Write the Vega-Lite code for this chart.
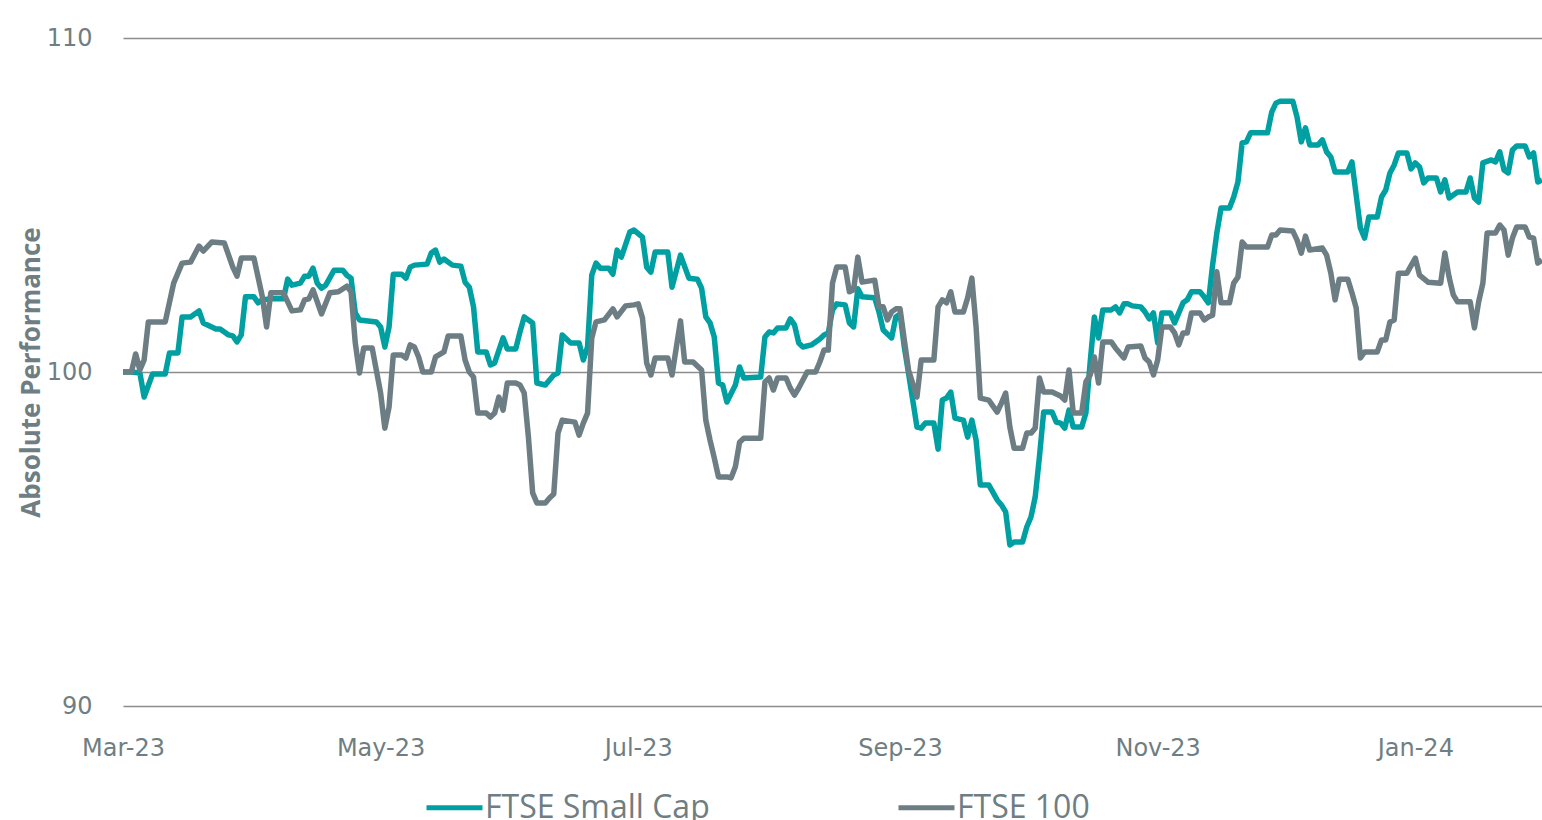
{
  "$schema": "https://vega.github.io/schema/vega-lite/v6.json",
  "width": 1419,
  "height": 668,
  "autosize": {"type": "none"},
  "padding": {"left": 123, "top": 38, "right": 0, "bottom": 114},
  "background": "white",
  "config": {"view": {"stroke": null}},
  "datasets": {
    "small": [
      {"d":"2023/03/01","v":100.00},{"d":"2023/03/03","v":100.00},{"d":"2023/03/05","v":99.97},{"d":"2023/03/06","v":99.25},{"d":"2023/03/08","v":99.94},{"d":"2023/03/11","v":99.94},{"d":"2023/03/12","v":100.57},{"d":"2023/03/14","v":100.57},{"d":"2023/03/15","v":101.65},{"d":"2023/03/17","v":101.65},{"d":"2023/03/19","v":101.83},{"d":"2023/03/20","v":101.47},{"d":"2023/03/21","v":101.41},{"d":"2023/03/23","v":101.29},{"d":"2023/03/24","v":101.29},{"d":"2023/03/26","v":101.11},{"d":"2023/03/27","v":101.08},{"d":"2023/03/28","v":100.90},{"d":"2023/03/29","v":101.11},{"d":"2023/03/30","v":102.25},
      {"d":"2023/04/01","v":102.25},{"d":"2023/04/02","v":102.07},{"d":"2023/04/03","v":102.16},{"d":"2023/04/05","v":102.19},{"d":"2023/04/08","v":102.19},{"d":"2023/04/09","v":102.78},{"d":"2023/04/10","v":102.60},{"d":"2023/04/12","v":102.66},{"d":"2023/04/13","v":102.87},{"d":"2023/04/14","v":102.87},{"d":"2023/04/15","v":103.11},{"d":"2023/04/16","v":102.66},{"d":"2023/04/17","v":102.51},{"d":"2023/04/18","v":102.60},{"d":"2023/04/20","v":103.05},{"d":"2023/04/22","v":103.05},{"d":"2023/04/23","v":102.90},{"d":"2023/04/24","v":102.81},{"d":"2023/04/25","v":101.77},{"d":"2023/04/26","v":101.56},{"d":"2023/04/30","v":101.50},
      {"d":"2023/05/01","v":101.35},{"d":"2023/05/02","v":100.75},{"d":"2023/05/03","v":101.35},{"d":"2023/05/04","v":102.93},{"d":"2023/05/06","v":102.93},{"d":"2023/05/07","v":102.81},{"d":"2023/05/08","v":103.14},{"d":"2023/05/09","v":103.20},{"d":"2023/05/12","v":103.23},{"d":"2023/05/13","v":103.56},{"d":"2023/05/14","v":103.65},{"d":"2023/05/15","v":103.29},{"d":"2023/05/16","v":103.38},{"d":"2023/05/18","v":103.20},{"d":"2023/05/20","v":103.17},{"d":"2023/05/21","v":102.69},{"d":"2023/05/22","v":102.54},{"d":"2023/05/23","v":101.95},{"d":"2023/05/24","v":100.60},{"d":"2023/05/26","v":100.60},{"d":"2023/05/27","v":100.21},{"d":"2023/05/28","v":100.27},{"d":"2023/05/30","v":101.02},{"d":"2023/05/31","v":100.69},
      {"d":"2023/06/02","v":100.69},{"d":"2023/06/03","v":101.20},{"d":"2023/06/04","v":101.65},{"d":"2023/06/06","v":101.47},{"d":"2023/06/07","v":99.67},{"d":"2023/06/09","v":99.61},{"d":"2023/06/11","v":99.91},{"d":"2023/06/12","v":99.97},{"d":"2023/06/13","v":101.11},{"d":"2023/06/15","v":100.87},{"d":"2023/06/17","v":100.87},{"d":"2023/06/18","v":100.36},{"d":"2023/06/19","v":100.75},{"d":"2023/06/20","v":102.90},{"d":"2023/06/21","v":103.26},{"d":"2023/06/22","v":103.11},{"d":"2023/06/24","v":103.11},{"d":"2023/06/25","v":102.93},{"d":"2023/06/26","v":103.65},{"d":"2023/06/27","v":103.44},{"d":"2023/06/29","v":104.19},{"d":"2023/06/30","v":104.25},
      {"d":"2023/07/02","v":104.04},{"d":"2023/07/03","v":103.14},{"d":"2023/07/04","v":102.99},{"d":"2023/07/05","v":103.59},{"d":"2023/07/08","v":103.59},{"d":"2023/07/09","v":102.54},{"d":"2023/07/11","v":103.50},{"d":"2023/07/13","v":102.81},{"d":"2023/07/15","v":102.78},{"d":"2023/07/16","v":102.51},{"d":"2023/07/17","v":101.65},{"d":"2023/07/18","v":101.47},{"d":"2023/07/19","v":101.05},{"d":"2023/07/20","v":99.67},{"d":"2023/07/21","v":99.61},{"d":"2023/07/22","v":99.10},{"d":"2023/07/24","v":99.61},{"d":"2023/07/25","v":100.15},{"d":"2023/07/26","v":99.82},{"d":"2023/07/30","v":99.85},{"d":"2023/07/31","v":101.05},
      {"d":"2023/08/01","v":101.20},{"d":"2023/08/02","v":101.17},{"d":"2023/08/03","v":101.32},{"d":"2023/08/05","v":101.32},{"d":"2023/08/06","v":101.59},{"d":"2023/08/07","v":101.41},{"d":"2023/08/08","v":100.87},{"d":"2023/08/09","v":100.75},{"d":"2023/08/11","v":100.81},{"d":"2023/08/13","v":100.99},{"d":"2023/08/14","v":101.11},{"d":"2023/08/15","v":101.17},{"d":"2023/08/16","v":101.86},{"d":"2023/08/17","v":102.04},{"d":"2023/08/19","v":102.01},{"d":"2023/08/20","v":101.47},{"d":"2023/08/21","v":101.35},{"d":"2023/08/22","v":102.49},{"d":"2023/08/23","v":102.25},{"d":"2023/08/26","v":102.22},{"d":"2023/08/27","v":101.80},{"d":"2023/08/28","v":101.26},{"d":"2023/08/30","v":101.02},{"d":"2023/08/31","v":101.65},
      {"d":"2023/09/01","v":101.74},{"d":"2023/09/02","v":100.75},{"d":"2023/09/03","v":99.97},{"d":"2023/09/05","v":98.35},{"d":"2023/09/06","v":98.32},{"d":"2023/09/07","v":98.47},{"d":"2023/09/09","v":98.47},{"d":"2023/09/10","v":97.69},{"d":"2023/09/11","v":99.16},{"d":"2023/09/12","v":99.22},{"d":"2023/09/13","v":99.40},{"d":"2023/09/14","v":98.62},{"d":"2023/09/16","v":98.56},{"d":"2023/09/17","v":98.05},{"d":"2023/09/18","v":98.56},{"d":"2023/09/19","v":97.96},{"d":"2023/09/20","v":96.62},{"d":"2023/09/22","v":96.62},{"d":"2023/09/24","v":96.17},{"d":"2023/09/25","v":96.02},{"d":"2023/09/26","v":95.81},{"d":"2023/09/27","v":94.82},{"d":"2023/09/28","v":94.91},{"d":"2023/09/30","v":94.91},
      {"d":"2023/10/01","v":95.36},{"d":"2023/10/02","v":95.66},{"d":"2023/10/03","v":96.26},{"d":"2023/10/04","v":97.46},{"d":"2023/10/05","v":98.80},{"d":"2023/10/07","v":98.80},{"d":"2023/10/08","v":98.50},{"d":"2023/10/09","v":98.47},{"d":"2023/10/10","v":98.32},{"d":"2023/10/11","v":98.86},{"d":"2023/10/12","v":98.35},{"d":"2023/10/14","v":98.35},{"d":"2023/10/15","v":98.77},{"d":"2023/10/16","v":100.27},{"d":"2023/10/17","v":101.65},{"d":"2023/10/18","v":101.02},{"d":"2023/10/19","v":101.86},{"d":"2023/10/21","v":101.86},{"d":"2023/10/22","v":101.95},{"d":"2023/10/23","v":101.77},{"d":"2023/10/24","v":102.04},{"d":"2023/10/25","v":102.04},{"d":"2023/10/26","v":101.98},{"d":"2023/10/28","v":101.95},{"d":"2023/10/29","v":101.80},{"d":"2023/10/30","v":101.59},{"d":"2023/10/31","v":101.77},
      {"d":"2023/11/01","v":100.87},{"d":"2023/11/02","v":101.77},{"d":"2023/11/04","v":101.77},{"d":"2023/11/05","v":101.47},{"d":"2023/11/06","v":101.77},{"d":"2023/11/07","v":102.07},{"d":"2023/11/08","v":102.16},{"d":"2023/11/09","v":102.40},{"d":"2023/11/11","v":102.40},{"d":"2023/11/12","v":102.25},{"d":"2023/11/13","v":102.07},{"d":"2023/11/14","v":103.20},{"d":"2023/11/15","v":104.16},{"d":"2023/11/16","v":104.91},{"d":"2023/11/18","v":104.91},{"d":"2023/11/19","v":105.24},{"d":"2023/11/20","v":105.69},{"d":"2023/11/21","v":106.86},{"d":"2023/11/22","v":106.89},{"d":"2023/11/23","v":107.16},{"d":"2023/11/27","v":107.16},{"d":"2023/11/28","v":107.78},{"d":"2023/11/29","v":108.05},{"d":"2023/11/30","v":108.11},
      {"d":"2023/12/03","v":108.11},{"d":"2023/12/04","v":107.63},{"d":"2023/12/05","v":106.89},{"d":"2023/12/06","v":107.31},{"d":"2023/12/07","v":106.80},{"d":"2023/12/09","v":106.80},{"d":"2023/12/10","v":106.95},{"d":"2023/12/11","v":106.59},{"d":"2023/12/12","v":106.44},{"d":"2023/12/13","v":105.99},{"d":"2023/12/16","v":105.99},{"d":"2023/12/17","v":106.29},{"d":"2023/12/18","v":105.30},{"d":"2023/12/19","v":104.31},{"d":"2023/12/20","v":104.01},{"d":"2023/12/21","v":104.64},{"d":"2023/12/23","v":104.64},{"d":"2023/12/24","v":105.24},{"d":"2023/12/25","v":105.45},{"d":"2023/12/26","v":105.96},{"d":"2023/12/27","v":106.20},{"d":"2023/12/28","v":106.56},{"d":"2023/12/30","v":106.56},{"d":"2023/12/31","v":106.08},
      {"d":"2024/01/01","v":106.26},{"d":"2024/01/02","v":106.14},{"d":"2024/01/03","v":105.66},{"d":"2024/01/04","v":105.81},{"d":"2024/01/06","v":105.81},{"d":"2024/01/07","v":105.39},{"d":"2024/01/08","v":105.75},{"d":"2024/01/09","v":105.21},{"d":"2024/01/10","v":105.30},{"d":"2024/01/11","v":105.39},{"d":"2024/01/13","v":105.39},{"d":"2024/01/14","v":105.81},{"d":"2024/01/15","v":105.21},{"d":"2024/01/16","v":105.09},{"d":"2024/01/17","v":106.26},{"d":"2024/01/19","v":106.35},{"d":"2024/01/20","v":106.29},{"d":"2024/01/21","v":106.59},{"d":"2024/01/22","v":106.05},{"d":"2024/01/23","v":105.96},{"d":"2024/01/24","v":106.65},{"d":"2024/01/25","v":106.77},{"d":"2024/01/27","v":106.77},{"d":"2024/01/28","v":106.44},{"d":"2024/01/29","v":106.56},{"d":"2024/01/30","v":105.69},{"d":"2024/01/31","v":105.75}
    ],
    "ftse": [
      {"d":"2023/03/01","v":100.00},{"d":"2023/03/03","v":100.00},{"d":"2023/03/04","v":100.54},{"d":"2023/03/05","v":100.06},{"d":"2023/03/06","v":100.36},{"d":"2023/03/07","v":101.50},{"d":"2023/03/11","v":101.50},{"d":"2023/03/13","v":102.66},{"d":"2023/03/15","v":103.26},{"d":"2023/03/17","v":103.29},{"d":"2023/03/19","v":103.77},{"d":"2023/03/20","v":103.62},{"d":"2023/03/22","v":103.89},{"d":"2023/03/25","v":103.86},{"d":"2023/03/27","v":103.14},{"d":"2023/03/28","v":102.87},{"d":"2023/03/29","v":103.41},
      {"d":"2023/04/01","v":103.41},{"d":"2023/04/03","v":102.25},{"d":"2023/04/04","v":101.35},{"d":"2023/04/05","v":102.37},{"d":"2023/04/08","v":102.37},{"d":"2023/04/10","v":101.83},{"d":"2023/04/12","v":101.86},{"d":"2023/04/13","v":102.16},{"d":"2023/04/14","v":102.19},{"d":"2023/04/15","v":102.46},{"d":"2023/04/17","v":101.74},{"d":"2023/04/19","v":102.37},{"d":"2023/04/21","v":102.40},{"d":"2023/04/23","v":102.57},{"d":"2023/04/24","v":102.40},{"d":"2023/04/25","v":100.87},{"d":"2023/04/26","v":99.97},{"d":"2023/04/27","v":100.72},{"d":"2023/04/29","v":100.72},
      {"d":"2023/05/01","v":99.37},{"d":"2023/05/02","v":98.32},{"d":"2023/05/03","v":98.95},{"d":"2023/05/04","v":100.51},{"d":"2023/05/06","v":100.51},{"d":"2023/05/07","v":100.42},{"d":"2023/05/08","v":100.81},{"d":"2023/05/09","v":100.75},{"d":"2023/05/10","v":100.45},{"d":"2023/05/11","v":100.00},{"d":"2023/05/13","v":100.00},{"d":"2023/05/14","v":100.45},{"d":"2023/05/16","v":100.60},{"d":"2023/05/17","v":101.08},{"d":"2023/05/20","v":101.08},{"d":"2023/05/21","v":100.36},{"d":"2023/05/22","v":100.00},{"d":"2023/05/23","v":99.85},{"d":"2023/05/24","v":98.77},{"d":"2023/05/26","v":98.77},{"d":"2023/05/27","v":98.65},{"d":"2023/05/28","v":98.77},{"d":"2023/05/29","v":99.25},{"d":"2023/05/30","v":98.86},{"d":"2023/05/31","v":99.67},
      {"d":"2023/06/02","v":99.67},{"d":"2023/06/03","v":99.61},{"d":"2023/06/04","v":99.37},{"d":"2023/06/05","v":98.05},{"d":"2023/06/06","v":96.38},{"d":"2023/06/07","v":96.08},{"d":"2023/06/09","v":96.08},{"d":"2023/06/10","v":96.23},{"d":"2023/06/11","v":96.35},{"d":"2023/06/12","v":98.17},{"d":"2023/06/13","v":98.56},{"d":"2023/06/16","v":98.50},{"d":"2023/06/17","v":98.11},{"d":"2023/06/18","v":98.47},{"d":"2023/06/19","v":98.77},{"d":"2023/06/20","v":101.02},{"d":"2023/06/21","v":101.50},{"d":"2023/06/23","v":101.56},{"d":"2023/06/25","v":101.89},{"d":"2023/06/26","v":101.65},{"d":"2023/06/28","v":101.98},{"d":"2023/06/30","v":102.01},
      {"d":"2023/07/01","v":102.04},{"d":"2023/07/02","v":101.62},{"d":"2023/07/03","v":100.27},{"d":"2023/07/04","v":99.91},{"d":"2023/07/05","v":100.42},{"d":"2023/07/08","v":100.42},{"d":"2023/07/09","v":99.91},{"d":"2023/07/11","v":101.53},{"d":"2023/07/12","v":100.30},{"d":"2023/07/14","v":100.30},{"d":"2023/07/16","v":100.06},{"d":"2023/07/17","v":98.56},{"d":"2023/07/18","v":97.96},{"d":"2023/07/19","v":97.43},{"d":"2023/07/20","v":96.86},{"d":"2023/07/22","v":96.86},{"d":"2023/07/23","v":96.83},{"d":"2023/07/24","v":97.16},{"d":"2023/07/25","v":97.90},{"d":"2023/07/26","v":98.02},{"d":"2023/07/30","v":98.02},{"d":"2023/07/31","v":99.70},
      {"d":"2023/08/01","v":99.82},{"d":"2023/08/02","v":99.46},{"d":"2023/08/03","v":99.82},{"d":"2023/08/05","v":99.82},{"d":"2023/08/06","v":99.52},{"d":"2023/08/07","v":99.31},{"d":"2023/08/08","v":99.52},{"d":"2023/08/10","v":100.00},{"d":"2023/08/12","v":100.00},{"d":"2023/08/13","v":100.30},{"d":"2023/08/14","v":100.66},{"d":"2023/08/15","v":100.66},{"d":"2023/08/16","v":102.66},{"d":"2023/08/17","v":103.14},{"d":"2023/08/19","v":103.14},{"d":"2023/08/20","v":102.40},{"d":"2023/08/21","v":102.46},{"d":"2023/08/22","v":103.44},{"d":"2023/08/23","v":102.69},{"d":"2023/08/26","v":102.75},{"d":"2023/08/27","v":101.95},{"d":"2023/08/28","v":101.95},{"d":"2023/08/29","v":101.56},{"d":"2023/08/30","v":101.80},{"d":"2023/08/31","v":101.89},
      {"d":"2023/09/01","v":101.89},{"d":"2023/09/02","v":100.96},{"d":"2023/09/03","v":100.06},{"d":"2023/09/05","v":99.25},{"d":"2023/09/06","v":100.36},{"d":"2023/09/09","v":100.36},{"d":"2023/09/10","v":101.95},{"d":"2023/09/11","v":102.16},{"d":"2023/09/12","v":102.07},{"d":"2023/09/13","v":102.40},{"d":"2023/09/14","v":101.80},{"d":"2023/09/16","v":101.80},{"d":"2023/09/17","v":102.22},{"d":"2023/09/18","v":102.81},{"d":"2023/09/19","v":101.35},{"d":"2023/09/20","v":99.22},{"d":"2023/09/22","v":99.16},{"d":"2023/09/24","v":98.80},{"d":"2023/09/25","v":99.07},{"d":"2023/09/26","v":99.37},{"d":"2023/09/27","v":98.35},{"d":"2023/09/28","v":97.72},{"d":"2023/09/30","v":97.72},
      {"d":"2023/10/01","v":98.17},{"d":"2023/10/02","v":98.17},{"d":"2023/10/03","v":98.32},{"d":"2023/10/04","v":99.82},{"d":"2023/10/05","v":99.40},{"d":"2023/10/07","v":99.40},{"d":"2023/10/09","v":99.28},{"d":"2023/10/10","v":99.16},{"d":"2023/10/11","v":100.06},{"d":"2023/10/12","v":98.77},{"d":"2023/10/14","v":98.77},{"d":"2023/10/15","v":99.70},{"d":"2023/10/16","v":99.91},{"d":"2023/10/17","v":100.45},{"d":"2023/10/18","v":99.67},{"d":"2023/10/19","v":100.90},{"d":"2023/10/21","v":100.90},{"d":"2023/10/22","v":100.72},{"d":"2023/10/24","v":100.42},{"d":"2023/10/25","v":100.75},{"d":"2023/10/28","v":100.78},{"d":"2023/10/29","v":100.42},{"d":"2023/10/30","v":100.30},{"d":"2023/10/31","v":99.91},
      {"d":"2023/11/01","v":100.36},{"d":"2023/11/02","v":101.35},{"d":"2023/11/04","v":101.35},{"d":"2023/11/05","v":101.17},{"d":"2023/11/06","v":100.81},{"d":"2023/11/07","v":101.17},{"d":"2023/11/08","v":101.17},{"d":"2023/11/09","v":101.77},{"d":"2023/11/11","v":101.77},{"d":"2023/11/12","v":101.56},{"d":"2023/11/13","v":101.65},{"d":"2023/11/14","v":101.70},{"d":"2023/11/15","v":103.00},{"d":"2023/11/16","v":102.07},{"d":"2023/11/18","v":102.07},{"d":"2023/11/19","v":102.66},{"d":"2023/11/20","v":102.84},{"d":"2023/11/21","v":103.89},{"d":"2023/11/22","v":103.74},{"d":"2023/11/27","v":103.74},{"d":"2023/11/28","v":104.10},{"d":"2023/11/29","v":104.10},{"d":"2023/11/30","v":104.25},
      {"d":"2023/12/03","v":104.22},{"d":"2023/12/04","v":103.95},{"d":"2023/12/05","v":103.56},{"d":"2023/12/06","v":104.07},{"d":"2023/12/07","v":103.65},{"d":"2023/12/10","v":103.71},{"d":"2023/12/11","v":103.50},{"d":"2023/12/12","v":102.96},{"d":"2023/12/13","v":102.16},{"d":"2023/12/14","v":102.78},{"d":"2023/12/16","v":102.78},{"d":"2023/12/17","v":102.37},{"d":"2023/12/18","v":101.92},{"d":"2023/12/19","v":100.42},{"d":"2023/12/20","v":100.60},{"d":"2023/12/23","v":100.60},{"d":"2023/12/24","v":100.96},{"d":"2023/12/25","v":100.96},{"d":"2023/12/26","v":101.50},{"d":"2023/12/27","v":101.56},{"d":"2023/12/28","v":102.96},{"d":"2023/12/30","v":102.96},
      {"d":"2024/01/01","v":103.41},{"d":"2024/01/02","v":102.90},{"d":"2024/01/04","v":102.69},{"d":"2024/01/07","v":102.66},{"d":"2024/01/08","v":103.56},{"d":"2024/01/09","v":102.84},{"d":"2024/01/10","v":102.31},{"d":"2024/01/11","v":102.10},{"d":"2024/01/14","v":102.10},{"d":"2024/01/15","v":101.32},{"d":"2024/01/16","v":102.10},{"d":"2024/01/17","v":102.66},{"d":"2024/01/18","v":104.16},{"d":"2024/01/20","v":104.16},{"d":"2024/01/21","v":104.40},{"d":"2024/01/22","v":104.25},{"d":"2024/01/23","v":103.50},{"d":"2024/01/24","v":104.01},{"d":"2024/01/25","v":104.34},{"d":"2024/01/27","v":104.34},{"d":"2024/01/28","v":104.04},{"d":"2024/01/29","v":104.01},{"d":"2024/01/30","v":103.26},{"d":"2024/01/31","v":103.35}
    ]
  },
  "encoding": {
    "x": {
      "field": "d",
      "type": "temporal",
      "scale": {"domain": [{"year": 2023, "month": 3, "date": 1}, {"year": 2024, "month": 1, "date": 31}]},
      "axis": {
        "title": null,
        "values": [{"year": 2023, "month": 3, "date": 1}, {"year": 2023, "month": 5, "date": 1}, {"year": 2023, "month": 7, "date": 1}, {"year": 2023, "month": 9, "date": 1}, {"year": 2023, "month": 11, "date": 1}, {"year": 2024, "month": 1, "date": 1}],
        "format": "%b-%y",
        "grid": false,
        "ticks": false,
        "domain": false,
        "labelFont": "DejaVu Sans",
        "labelFontSize": 24,
        "labelColor": "#6F7E82",
        "labelPadding": 30,
        "labelFlush": false,
        "labelOverlap": false
      }
    },
    "y": {
      "field": "v",
      "type": "quantitative",
      "scale": {"domain": [90, 110], "nice": false, "zero": false},
      "axis": {
        "title": "Absolute Performance",
        "titleFont": "Open Sans",
        "titleFontSize": 26,
        "titleFontWeight": "bold",
        "titleColor": "#6F7E82",
        "titlePadding": 2,
        "values": [90, 100, 110],
        "grid": true,
        "gridColor": "#8C8C8C",
        "gridWidth": 1.5,
        "ticks": false,
        "domain": false,
        "labelFont": "DejaVu Sans",
        "labelFontSize": 24,
        "labelColor": "#6F7E82",
        "labelPadding": 31
      }
    }
  },
  "layer": [
    {
      "data": {"name": "small"},
      "mark": {"type": "line", "strokeWidth": 5.5, "strokeJoin": "round"},
      "encoding": {
        "color": {
          "datum": "FTSE Small Cap",
          "scale": {"domain": ["FTSE Small Cap", "FTSE 100"], "range": ["#00A0A2", "#6C7E84"]},
          "legend": {
            "title": null,
            "orient": "none",
            "legendX": 301,
            "legendY": 739,
            "direction": "horizontal",
            "padding": 0,
            "symbolType": "stroke",
            "symbolSize": 3136,
            "symbolStrokeWidth": 5,
            "labelFont": "Open Sans",
            "labelFontSize": 32,
            "labelColor": "#6F7E82",
            "labelOffset": 0,
            "labelLimit": 400,
            "columnPadding": 178
          }
        }
      }
    },
    {
      "data": {"name": "ftse"},
      "mark": {"type": "line", "strokeWidth": 5.5, "strokeJoin": "round"},
      "encoding": {"color": {"datum": "FTSE 100"}}
    }
  ]
}
